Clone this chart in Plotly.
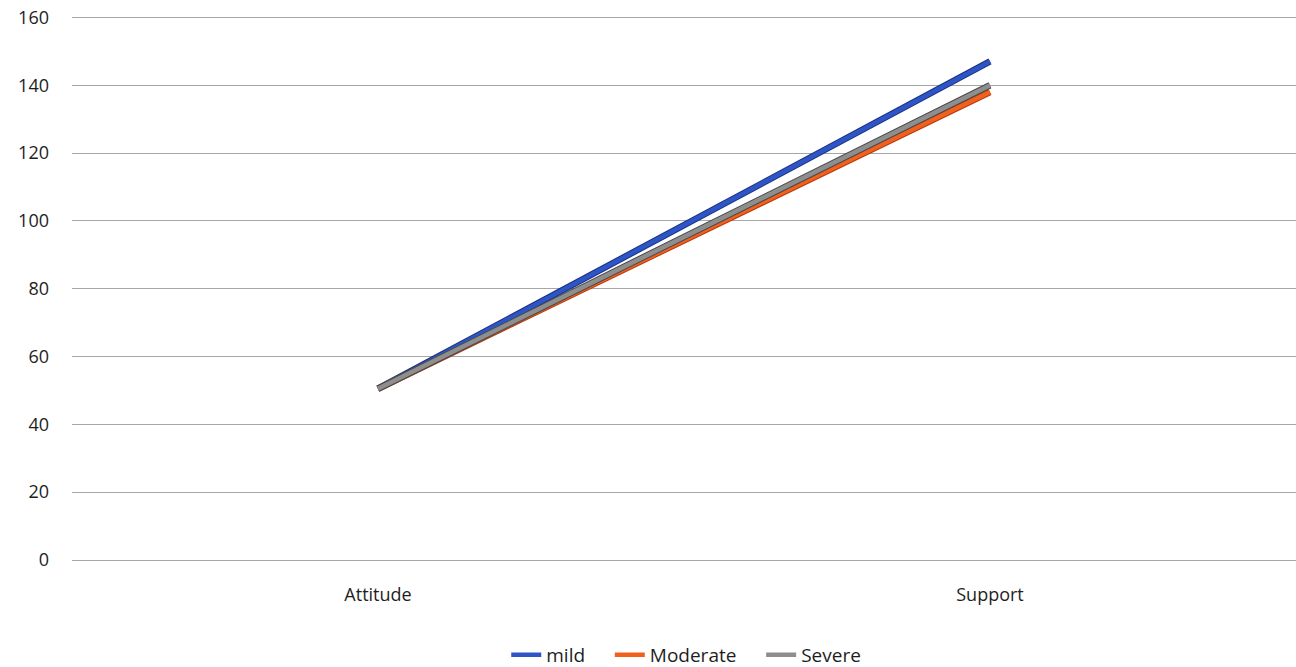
import plotly.graph_objects as go

categories = ["Attitude", "Support"]
series_names = ["mild", "Moderate", "Severe"]
mild = [50.5, 147.0]
moderate = [50.5, 138.0]
severe = [50.5, 140.0]
colors = ["#2E55C6", "#F2601E", "#8E8E8E"]
outline = ["#1A2F80", "#B83A0A", "#4A4A4A"]
y_ticks = [0, 20, 40, 60, 80, 100, 120, 140, 160]

fig = go.Figure()
for name, vals, c, oc in zip(series_names, [mild, moderate, severe], colors, outline):
    fig.add_trace(go.Scatter(x=categories, y=vals, mode="lines",
                             line=dict(color=oc, width=6.5), showlegend=False,
                             hoverinfo="skip"))
    fig.add_trace(go.Scatter(x=categories, y=vals, mode="lines", name=name + "    ",
                             line=dict(color=c, width=4.5)))

fig.update_layout(
    width=1296, height=667,
    margin=dict(l=72, r=0, t=14, b=107, autoexpand=False),
    paper_bgcolor="white", plot_bgcolor="white",
    font=dict(family="Open Sans, Liberation Sans, sans-serif", size=18, color="#1E1E1E"),
    showlegend=True,
    legend=dict(orientation="h", x=0.51, xanchor="center", y=0.018, yanchor="middle",
                yref="container", font=dict(size=19), tracegroupgap=0),
)
fig.update_xaxes(showgrid=False, showline=False, zeroline=False, ticks="",
                 range=[-0.5, 1.5], tickfont=dict(size=18), ticklabelstandoff=22,
                 automargin=False)
fig.update_yaxes(range=[0, 161], tickvals=y_ticks, showgrid=True, gridcolor="#A6A6A6",
                 gridwidth=1.3, zeroline=True, zerolinecolor="#A6A6A6", zerolinewidth=1.3,
                 showline=False, ticks="", ticklabelstandoff=22, tickfont=dict(size=18),
                 ticklabeloverflow="allow", automargin=False)

fig.write_html("out.html", config={"displayModeBar": False},
               post_script="document.body.style.margin='0';")
